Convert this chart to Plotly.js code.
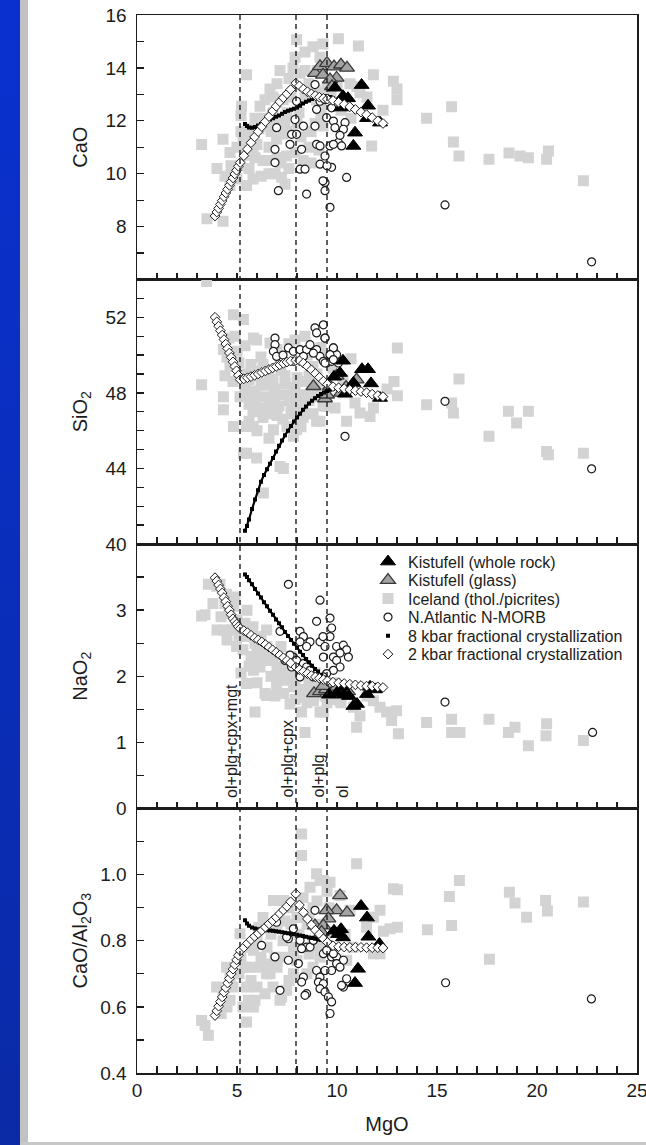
<!DOCTYPE html>
<html><head><meta charset="utf-8">
<script src="https://cdn.plot.ly/plotly-3.0.1.min.js"></script>
<style>
html,body{margin:0;padding:0;background:#fff;width:646px;height:1145px;overflow:hidden}
#blue{position:absolute;left:0;top:0;width:20px;height:1145px;background:linear-gradient(#0a31d0,#0a2aa6)}
#grayv{position:absolute;left:20px;top:0;width:8px;height:1145px;background:#c2c2c2}
#grayh{position:absolute;left:20px;top:1142px;width:626px;height:3px;background:#c8c8c8}
#chart{position:absolute;left:0;top:0;width:646px;height:1145px}
</style></head>
<body>
<div id="blue"></div><div id="grayv"></div><div id="grayh"></div>
<div id="chart"></div>
<script>
// ---------- Panel 1 : CaO ----------
const icelandMgO_CaO = [3.23,4.3,3.5,5.48,5.23,6.15,7.15,7.98,7.8,4.3,4.65,5.15,5.48,4.65,5.8,7.23,6.48,6.98,7.48,6.8,5.8,8.8,9.15,8.98,9.3,10.07,11.07,11.82,12.82,13.0,13.0,12.3,11.73,15.73,14.48,15.82,16.1,17.6,18.6,19.15,19.57,20.57,20.48,22.32,9.3,9.5,10.65,11.15,8.4,6.65,8.15,5.0,4.9,5.6,5.4,6.0,5.7,6.3,6.6,7.0,7.3,7.0,7.5,7.3,7.7,8.1,8.4,8.6,8.9,9.2,9.4,7.7,8.2,8.6,6.3,5.9,7.6,8.9,11.0,11.5,10.0,6.1,6.7,5.2,4.0,4.4,4.7,5.0,5.3,5.6,5.9,6.2,6.5,6.9,7.2,7.6,7.9,8.3,8.7,9.1,8.7,9.2,8.0,7.4,6.8,6.4,7.0,7.9,8.4,9.0,9.7,10.2,10.7,6.6,7.4,5.2];
const icelandCaO =     [11.1,8.2,8.3,13.74,12.55,12.55,13.9,15.06,14.0,11.3,10.8,10.3,9.55,9.55,9.8,9.87,11.8,11.3,10.67,12.9,10.9,14.8,14.4,12.8,11.8,15.1,14.83,13.74,13.5,13.2,12.8,12.4,11.05,12.53,12.1,11.2,10.67,10.55,10.78,10.67,10.6,10.86,10.55,9.73,14.9,13.3,13.4,13.06,14.6,13.2,13.8,11.0,10.2,10.2,10.7,11.1,11.4,10.5,11.0,10.6,11.5,12.0,12.3,12.8,12.9,12.3,12.9,13.4,13.2,12.5,13.1,11.6,11.4,11.0,12.1,12.1,13.6,11.9,13.3,12.9,13.4,11.7,11.6,11.6,10.2,9.9,10.3,9.8,11.2,11.7,10.6,9.9,10.5,10.0,10.4,10.2,10.8,10.5,10.4,10.9,11.6,12.1,11.9,11.9,12.3,12.8,13.4,14.4,13.9,13.9,13.0,12.4,12.1,10.0,9.6,12.2];
const morbMgO_CaO = [7.98,6.98,7.9,8.32,8.9,8.98,9.48,9.82,9.9,10.4,10.32,7.73,7.98,7.65,8.23,6.9,6.9,8.98,9.15,9.65,10.07,10.23,9.15,9.4,9.73,8.15,8.4,9.4,9.4,10.48,8.48,7.07,9.65,8.9,9.15,9.4,9.3,9.82,9.73,15.4,22.73,9.5,10.15];
const morbCaO =     [12.74,11.74,12.05,11.8,11.8,12.43,12.12,11.99,11.74,11.93,11.68,11.49,11.49,11.11,10.92,10.92,10.42,11.11,11.05,11.05,11.18,11.05,10.36,10.67,10.24,10.17,10.17,9.67,9.36,9.86,9.23,9.36,8.73,13.37,12.74,12.8,9.73,11.11,12.49,8.82,6.67,10.3,11.45];
const glassMgO_CaO = [8.9,9.15,9.5,9.3,9.85,10.2,10.5,9.98,9.65,9.75];
const glassCaO =     [13.8,14.06,14.18,13.74,14.05,14.12,14.0,13.62,13.56,13.3];
const rockMgO_CaO = [9.9,10.3,10.2,10.55,11.23,11.55,11.5,12.15,10.9,10.82];
const rockCaO =     [13.25,12.93,12.5,12.85,13.35,12.57,12.1,11.93,11.55,11.05];

// ---------- Panel 2 : SiO2 ----------
const icelandMgO_SiO2 = [3.48,4.82,5.32,4.32,3.23,4.65,4.32,4.82,5.48,5.48,5.98,7.32,6.32,5.82,6.65,5.82,5.15,6.82,7.82,8.98,13.02,12.85,13.02,14.48,16.1,15.73,15.82,17.6,18.57,19.57,18.98,20.48,20.57,22.32,10.48,11.15,11.65,11.82,9.48,10.9,9.15,5.98,4.32,5.82,5.32,7.15,7.98,5.4,5.9,6.4,6.9,7.4,7.9,8.4,8.9,9.3,5.6,6.1,6.6,7.1,7.6,8.1,8.6,6.3,6.8,7.3,7.8,8.3,5.5,6.0,6.6,7.2,8.8,4.6,5.0,5.4,5.1,4.8,6.2,7.0,7.6,8.4,9.2,9.8,10.3,10.7,9.9,12.5,5.6,6.2,6.8,7.4,8.0,8.6,9.1,5.9,6.4,6.9,7.4,7.9,8.4,8.9,9.3,5.8,6.5,7.0,7.7,8.3,8.8,5.4,5.7,6.3,4.5,4.9,4.4,5.6,6.0,6.6,7.5,8.2,9.0,8.5,7.9,9.5];
const icelandSiO2 =     [53.9,52.14,51.88,50.3,48.43,49.4,47.8,46.22,46.22,44.8,44.55,44.0,42.7,50.9,50.64,49.14,47.8,46.05,45.7,46.5,50.38,48.6,47.85,47.37,48.73,47.46,46.93,45.7,47.02,47.02,46.4,44.9,44.72,44.8,46.5,46.93,46.75,47.2,47.28,47.46,46.5,50.8,47.1,46.22,44.8,44.1,46.05,48.3,48.1,48.4,48.2,48.5,48.3,48.6,48.2,48.0,47.4,47.2,47.5,47.3,47.6,47.4,47.6,46.7,46.9,46.6,46.9,46.7,49.0,48.9,49.0,49.2,49.4,50.9,50.2,50.5,49.6,48.6,49.9,50.3,50.6,51.0,50.4,49.3,48.7,49.8,47.2,48.2,48.7,48.5,48.7,48.9,48.8,48.9,48.6,47.7,47.8,47.8,47.9,47.8,47.9,47.8,47.3,47.0,47.0,46.8,47.1,47.2,46.9,47.8,49.5,49.5,49.9,51.0,48.9,46.5,46.0,45.6,46.2,46.2,49.0,50.0,50.8,49.9];
const morbMgO_SiO2 = [8.9,8.98,9.4,6.9,6.9,6.82,6.98,7.57,7.82,8.15,8.48,8.65,8.98,8.32,9.15,9.32,9.48,9.82,9.98,9.73,10.07,10.4,7.82,9.32,9.4,9.82,9.65,9.82,9.4,15.4,22.73,8.82,7.3];
const morbSiO2 =     [51.44,51.17,50.9,50.9,50.55,50.2,49.93,50.38,50.2,50.29,50.29,50.55,50.29,49.93,49.93,49.67,49.58,50.38,50.02,49.67,49.58,45.7,49.67,51.6,50.9,50.38,50.02,49.76,49.58,47.55,43.98,50.1,50.0];
const glassMgO_SiO2 = [8.82,9.4,9.65,9.98,10.45,10.98,9.5,10.2];
const glassSiO2 =     [48.35,47.7,48.35,48.9,48.3,48.7,47.9,48.0];
const rockMgO_SiO2 = [10.3,11.25,11.55,10.15,10.82,11.7,10.4,12.15,9.85,10.6];
const rockSiO2 =     [49.7,49.25,49.25,49.05,48.52,48.5,47.95,47.73,48.85,48.2];

// ---------- Panel 3 : NaO2 ----------
const icelandMgO_Na = [3.23,3.57,4.15,4.48,4.82,4.32,4.98,5.48,5.9,6.48,5.82,6.48,6.15,6.98,7.65,8.23,8.4,7.32,7.82,8.82,9.15,3.4,3.98,5.32,5.9,6.48,6.4,7.32,8.15,9.15,9.32,10.15,10.82,11.15,12.15,12.73,12.98,10.98,12.48,13.07,14.48,15.73,15.73,16.15,17.6,18.57,18.9,19.57,20.48,20.45,22.32,11.82,4.6,5.0,5.3,5.6,5.7,6.0,6.2,6.5,6.8,7.0,7.2,7.5,7.7,8.0,8.3,8.6,8.9,9.2,9.6,9.9,5.2,6.7,7.9,8.6,4.5,4.9,5.5,9.5,10.4,11.5,3.8,4.2,4.4,4.7,5.1,5.4,5.8,6.1,6.4,6.7,7.0,7.3,7.6,7.9,8.2,8.5,8.8,9.1,9.4,9.8,10.2,5.6,6.0,4.0,6.9];
const icelandNa =     [2.91,3.39,3.39,3.24,3.06,2.7,2.45,1.89,1.46,1.71,2.09,2.7,2.14,1.84,1.58,1.46,1.15,1.94,1.84,1.63,1.46,2.93,3.36,2.65,2.5,2.24,1.74,1.74,1.68,1.74,1.46,1.63,1.53,1.4,1.53,1.33,1.48,1.23,1.46,1.13,1.3,1.35,1.15,1.15,1.35,1.15,1.23,0.95,1.28,1.1,1.03,1.63,2.95,2.85,2.4,2.6,2.3,2.35,2.6,2.45,2.3,2.15,2.45,2.1,2.3,2.0,2.2,1.9,2.05,1.95,1.8,1.9,2.05,2.0,1.65,1.75,2.55,3.2,3.0,1.6,1.75,1.7,3.1,2.9,3.1,2.7,2.6,2.8,2.75,2.2,2.3,2.25,2.0,2.05,1.95,1.85,1.8,1.6,1.85,1.8,1.7,1.65,1.6,2.15,1.9,2.7,1.7];
const morbMgO_Na = [7.57,9.15,8.98,7.15,8.15,8.32,8.15,8.65,8.48,9.65,9.73,9.65,9.15,9.4,9.98,10.32,10.48,10.57,10.15,9.82,9.32,9.98,7.82,7.98,8.32,8.48,8.15,8.65,8.15,8.82,10.15,9.82,9.48,9.32,7.4,7.73,15.4,22.78,9.3,7.65];
const morbNa =     [3.39,3.15,2.83,2.68,2.68,2.6,2.52,2.52,2.45,2.88,2.73,2.6,2.52,2.45,2.45,2.47,2.4,2.29,2.35,2.29,2.29,2.24,2.29,2.24,2.19,2.14,2.09,2.09,1.99,1.99,2.14,2.09,2.04,1.99,2.24,2.14,1.61,1.15,2.6,2.32];
const glassMgO_Na = [8.85,9.15,9.45,9.7,10.0,10.55,9.3];
const glassNa =     [1.74,1.77,1.8,1.74,1.84,1.77,1.85];
const rockMgO_Na = [9.6,10.0,10.25,10.35,10.82,11.0,11.5,11.65,11.9,10.6];
const rockNa =     [1.72,1.75,1.84,1.72,1.55,1.58,1.73,1.84,1.8,1.7];

// ---------- Panel 4 : CaO/Al2O3 ----------
const icelandMgO_Ratio = [3.23,3.57,3.98,4.48,5.48,5.57,5.48,5.15,5.82,6.48,6.82,7.23,7.82,8.23,8.23,9.15,9.15,4.65,4.65,10.98,12.82,8.98,8.65,9.65,7.32,12.15,12.65,11.82,10.65,11.48,10.48,12.15,5.82,7.15,7.48,6.65,7.82,3.4,13.02,13.02,12.32,14.52,15.62,16.12,15.73,17.62,18.62,18.9,19.48,20.43,20.52,22.32,11.82,9.32,10.15,4.3,4.9,5.2,5.6,6.0,6.1,6.5,6.9,7.3,7.7,8.1,8.5,8.8,9.2,9.6,7.0,6.3,7.6,8.3,8.8,6.0,6.8,8.0,5.3,8.5,9.4,10.4,10.8,4.2,4.5,4.8,5.1,5.4,5.7,6.2,6.6,7.0,7.4,7.9,8.6,9.0,5.7,6.1,6.7,7.4,8.0,8.6,9.0,9.5,5.9,6.4,7.6,8.8];
const icelandRatio =     [0.559,0.514,0.66,0.72,0.66,0.62,0.554,0.821,0.771,0.7,0.922,0.63,0.7,1.123,1.058,0.982,0.75,0.69,0.62,1.033,0.957,1.003,0.962,0.977,0.922,0.892,0.836,0.871,0.892,0.841,0.741,0.761,0.6,0.62,0.65,0.7,0.771,0.544,0.954,0.841,0.829,0.833,0.934,0.982,0.846,0.744,0.947,0.914,0.871,0.922,0.89,0.917,0.761,0.982,0.937,0.64,0.7,0.75,0.72,0.8,0.72,0.78,0.75,0.8,0.85,0.82,0.85,0.8,0.85,0.9,0.85,0.87,0.9,0.93,0.9,0.66,0.66,0.74,0.6,0.7,0.8,0.82,0.78,0.58,0.6,0.66,0.7,0.72,0.68,0.75,0.73,0.72,0.75,0.78,0.76,0.78,0.78,0.84,0.82,0.86,0.87,0.88,0.92,0.95,0.62,0.64,0.68,0.72];
const morbMgO_Ratio = [6.23,6.98,6.9,7.57,8.07,8.15,8.48,8.65,8.23,8.32,8.23,7.15,8.48,8.9,7.82,7.57,9.32,9.73,9.48,8.98,9.15,9.07,9.32,9.15,9.4,9.57,9.73,9.65,9.98,10.32,9.98,10.48,10.32,9.73,9.4,8.82,7.48,8.4,9.82,10.15,10.23,15.43,22.72];
const morbRatio =     [0.786,0.856,0.751,0.741,0.731,0.801,0.781,0.781,0.776,0.69,0.675,0.65,0.64,0.892,0.836,0.806,0.761,0.751,0.771,0.71,0.69,0.675,0.67,0.655,0.645,0.63,0.615,0.58,0.751,0.741,0.731,0.685,0.66,0.71,0.71,0.801,0.811,0.635,0.761,0.72,0.665,0.673,0.624];
const glassMgO_Ratio = [10.15,9.98,10.5,9.48,8.9,9.57,9.32,9.23];
const glassRatio =     [0.937,0.892,0.885,0.892,0.846,0.867,0.846,0.826];
const rockMgO_Ratio = [9.85,10.05,10.3,10.2,11.2,11.5,11.57,12.12,11.05,10.9];
const rockRatio =     [0.83,0.82,0.81,0.835,0.905,0.87,0.812,0.79,0.715,0.672];

// ---------- Fractional crystallization models ----------
const kbar8MgO = [5.4,5.5,5.6,5.75,5.9,6.05,6.2,6.35,6.5,6.65,6.8,6.95,7.1,7.25,7.4,7.55,7.7,7.85,8.0,8.15,8.3,8.45,8.6,8.75,8.9,9.05,9.2,9.35,9.5,9.65,9.8,10.0,10.3,10.6,10.9,11.2,11.5,11.8,12.1,12.3];
const kbar8CaO = [11.88,11.8,11.75,11.74,11.77,11.82,11.88,11.94,12.0,12.05,12.1,12.15,12.2,12.27,12.33,12.38,12.42,12.46,12.5,12.57,12.65,12.72,12.77,12.82,12.86,12.88,12.9,12.92,12.93,12.9,12.85,12.75,12.63,12.54,12.43,12.33,12.22,12.1,11.98,11.9];
const kbar8SiO2 = [40.7,40.95,41.3,41.85,42.35,42.85,43.3,43.65,43.95,44.25,44.55,44.9,45.2,45.48,45.75,46.0,46.25,46.48,46.7,46.9,47.1,47.28,47.44,47.58,47.72,47.84,47.94,48.02,48.1,48.17,48.22,48.26,48.22,48.18,48.13,48.07,48.01,47.93,47.85,47.8];
const kbar8Na = [3.54,3.5,3.45,3.39,3.32,3.25,3.19,3.12,3.06,2.99,2.93,2.86,2.8,2.74,2.67,2.61,2.55,2.49,2.43,2.37,2.32,2.26,2.21,2.16,2.11,2.07,2.02,1.98,1.94,1.92,1.91,1.9,1.89,1.88,1.87,1.86,1.85,1.85,1.84,1.83];
const kbar8Ratio = [0.862,0.852,0.845,0.84,0.837,0.835,0.834,0.833,0.832,0.831,0.83,0.829,0.827,0.826,0.824,0.823,0.821,0.82,0.818,0.816,0.814,0.812,0.81,0.808,0.806,0.804,0.802,0.8,0.798,0.795,0.79,0.786,0.783,0.781,0.78,0.78,0.779,0.779,0.779,0.778];

const kbar2MgO = [3.9,3.99,4.08,4.17,4.26,4.35,4.44,4.53,4.62,4.71,4.8,4.89,4.98,5.07,5.16,5.34,5.52,5.7,5.88,6.06,6.24,6.42,6.6,6.78,6.96,7.14,7.32,7.5,7.68,7.94,8.12,8.32,8.52,8.72,8.92,9.12,9.32,9.52,9.8,10.08,10.36,10.64,10.92,11.2,11.48,11.76,12.04,12.3];
const kbar2CaO = [8.4,8.55,8.69,8.84,8.98,9.13,9.27,9.41,9.56,9.7,9.84,9.99,10.13,10.28,10.42,10.68,10.93,11.17,11.39,11.59,11.78,11.97,12.16,12.37,12.55,12.72,12.87,13.02,13.18,13.42,13.32,13.2,13.1,13.02,12.95,12.89,12.85,12.82,12.77,12.7,12.62,12.53,12.43,12.33,12.23,12.12,12.0,11.9];
const kbar2SiO2 = [52.0,51.76,51.53,51.29,51.06,50.82,50.58,50.35,50.11,49.88,49.64,49.4,49.17,48.93,48.7,48.74,48.8,48.86,48.93,49.0,49.08,49.16,49.24,49.32,49.4,49.48,49.56,49.63,49.68,49.72,49.7,49.57,49.4,49.22,49.02,48.82,48.62,48.45,48.33,48.27,48.22,48.17,48.12,48.07,48.01,47.93,47.86,47.8];
const kbar2Na = [3.49,3.44,3.38,3.32,3.26,3.19,3.13,3.06,3.0,2.93,2.87,2.83,2.79,2.75,2.72,2.69,2.66,2.62,2.58,2.55,2.52,2.48,2.44,2.4,2.36,2.32,2.28,2.24,2.2,2.14,2.1,2.07,2.04,2.01,1.99,1.97,1.95,1.93,1.91,1.9,1.89,1.88,1.87,1.86,1.85,1.85,1.84,1.83];
const kbar2Ratio = [0.574,0.588,0.602,0.616,0.63,0.644,0.658,0.672,0.686,0.7,0.714,0.728,0.742,0.756,0.77,0.78,0.792,0.803,0.813,0.822,0.831,0.841,0.851,0.861,0.871,0.882,0.893,0.904,0.918,0.942,0.908,0.886,0.866,0.848,0.832,0.82,0.806,0.795,0.785,0.782,0.781,0.78,0.78,0.78,0.779,0.779,0.779,0.778];

// Tick labels
const xTickVals = [0,5,10,15,20,25];
const yTickVals = [[8,10,12,14,16],[40,44,48,52],[0,1,2,3],[0.4,0.6,0.8,1.0]];
const yTickText = [['8','10','12','14','16'],['40','44','48','52'],['0','1','2','3'],['0.4','0.6','0.8','1.0']];

// Phase-boundary MgO values and labels
const boundaryMgO = [5.15, 7.95, 9.5];
const fieldLabels = ['ol+plg+cpx+mgt', 'ol+plg+cpx', 'ol+plg', 'ol'];
const fieldLabelMgO = [4.75, 7.5, 9.05, 10.3];

const seriesNames = ['Kistufell (whole rock)','Kistufell (glass)','Iceland (thol./picrites)','N.Atlantic N-MORB','8 kbar fractional crystallization','2 kbar fractional crystallization'];
const yTitles = ['CaO','SiO<sub>2</sub>','NaO<sub>2</sub>','CaO/Al<sub>2</sub>O<sub>3</sub>'];

// ---------- build ----------
const panels = [
  {ice:[icelandMgO_CaO,icelandCaO], morb:[morbMgO_CaO,morbCaO], gl:[glassMgO_CaO,glassCaO], wr:[rockMgO_CaO,rockCaO], k8:kbar8CaO, k2:kbar2CaO},
  {ice:[icelandMgO_SiO2,icelandSiO2], morb:[morbMgO_SiO2,morbSiO2], gl:[glassMgO_SiO2,glassSiO2], wr:[rockMgO_SiO2,rockSiO2], k8:kbar8SiO2, k2:kbar2SiO2},
  {ice:[icelandMgO_Na,icelandNa], morb:[morbMgO_Na,morbNa], gl:[glassMgO_Na,glassNa], wr:[rockMgO_Na,rockNa], k8:kbar8Na, k2:kbar2Na},
  {ice:[icelandMgO_Ratio,icelandRatio], morb:[morbMgO_Ratio,morbRatio], gl:[glassMgO_Ratio,glassRatio], wr:[rockMgO_Ratio,rockRatio], k8:kbar8Ratio, k2:kbar2Ratio}
];

const styles = {
  wr:  {symbol:'triangle-up', size:13, color:'#000', line:{color:'#000', width:1}},
  gl:  {symbol:'triangle-up', size:13, color:'#a3a3a3', line:{color:'#3a3a3a', width:1.3}},
  ice: {symbol:'square', size:11, color:'#d3d3d3', line:{width:0}},
  morb:{symbol:'circle', size:8, color:'#fff', line:{color:'#1a1a1a', width:1.2}},
  k8:  {symbol:'square', size:4, color:'#000', line:{width:0}},
  k2:  {symbol:'diamond', size:7.5, color:'#fff', line:{color:'#1a1a1a', width:1}}
};
const legendOf = {wr:'legend', gl:'legend2', ice:'legend3', morb:'legend4', k8:'legend5', k2:'legend6'};
const nameOf = {wr:seriesNames[0], gl:seriesNames[1], ice:seriesNames[2], morb:seriesNames[3], k8:seriesNames[4], k2:seriesNames[5]};

const traces = [];
panels.forEach((p, i) => {
  const xa = i === 0 ? 'x' : 'x' + (i + 1);
  const ya = i === 0 ? 'y' : 'y' + (i + 1);
  const showL = (i === 2);
  const add = (key, x, y) => traces.push({
    type:'scatter', mode:'markers', x:x, y:y, xaxis:xa, yaxis:ya,
    name:nameOf[key], legend:legendOf[key], showlegend:showL,
    marker:styles[key], hoverinfo:'x+y'
  });
  add('ice', p.ice[0], p.ice[1]);
  add('morb', p.morb[0], p.morb[1]);
  add('gl', p.gl[0], p.gl[1]);
  add('wr', p.wr[0], p.wr[1]);
  traces.push({type:'scatter', mode:'lines', x:kbar8MgO, y:p.k8, xaxis:xa, yaxis:ya,
    showlegend:false, line:{color:'#000', width:2.2}, hoverinfo:'skip'});
  add('k8', kbar8MgO, p.k8);
  add('k2', kbar2MgO, p.k2);
});

const FONT = 'Liberation Sans, Arial, Helvetica, sans-serif';
const INK = '#1c1c1c';
const xbase = {
  range:[0,25], tickmode:'array', tickvals:xTickVals, ticks:'inside', ticklen:7, tickwidth:1.3, tickcolor:INK,
  minor:{tickmode:'linear', ticks:'inside', ticklen:7, tickwidth:1.3, tickcolor:INK, dtick:1, tick0:0, showgrid:false},
  showline:true, linecolor:INK, linewidth:1.5, mirror:true, showgrid:false, zeroline:false,
  tickfont:{size:19, family:FONT, color:INK}, ticklabeloverflow:'allow'
};
const ybase = {
  ticks:'inside', ticklen:7, tickwidth:1.3, tickcolor:INK, tickmode:'array',
  showline:true, linecolor:INK, linewidth:1.5, mirror:true, showgrid:false, zeroline:false,
  tickfont:{size:19, family:FONT, color:INK}, ticklabelstandoff:5
};
const yRanges = [[6,16],[40,54],[0,4],[0.4,1.2]];
const yMinor = [1,1,0.5,0.1];
const doms = [[0.75,1],[0.5,0.75],[0.25,0.5],[0,0.25]];

const layout = {
  width:646, height:1145,
  margin:{l:137, r:9, t:15, b:72},
  paper_bgcolor:'rgba(0,0,0,0)', plot_bgcolor:'#fff',
  font:{family:FONT, size:19, color:INK},
  showlegend:true,
  shapes:[], annotations:[]
};
for (let i = 0; i < 4; i++) {
  const sx = i === 0 ? '' : String(i + 1);
  const xa = Object.assign({}, xbase, {anchor:'y' + sx, showticklabels: i === 3});
  if (i === 3) xa.title = {text:'MgO', font:{size:20, family:FONT, color:INK}, standoff:16};
  layout['xaxis' + sx] = xa;
  layout['yaxis' + sx] = Object.assign({}, ybase, {
    anchor:'x' + sx, domain:doms[i], range:yRanges[i], tickvals:yTickVals[i], ticktext:yTickText[i],
    minor:{tickmode:'linear', ticks:'inside', ticklen:7, tickwidth:1.3, tickcolor:INK, dtick:yMinor[i], tick0:yRanges[i][0], showgrid:false},
    title:{text:yTitles[i], font:{size:20, family:FONT, color:INK}}
  });
}
boundaryMgO.forEach(m => layout.shapes.push({
  type:'line', xref:'x', yref:'paper', x0:m, x1:m, y0:0, y1:1, layer:'above',
  line:{color:INK, width:1.4, dash:'5px,4px'}
}));
fieldLabels.forEach((t, k) => layout.annotations.push({
  text:t, xref:'x3', yref:'y3', x:fieldLabelMgO[k], y:0.13, textangle:-90,
  xanchor:'center', yanchor:'bottom', showarrow:false,
  font:{size:16, family:FONT, color:INK}
}));
const legendY = [0.4833,0.4658,0.4483,0.4308,0.4133,0.3958];
['legend','legend2','legend3','legend4','legend5','legend6'].forEach((lg, k) => {
  layout[lg] = {x:0.462, y:legendY[k], xanchor:'left', yanchor:'middle',
    bgcolor:'rgba(0,0,0,0)', borderwidth:0, font:{size:16, family:FONT, color:INK}};
});

Plotly.newPlot('chart', traces, layout, {displayModeBar:false, staticPlot:true});
</script>
</body></html>
